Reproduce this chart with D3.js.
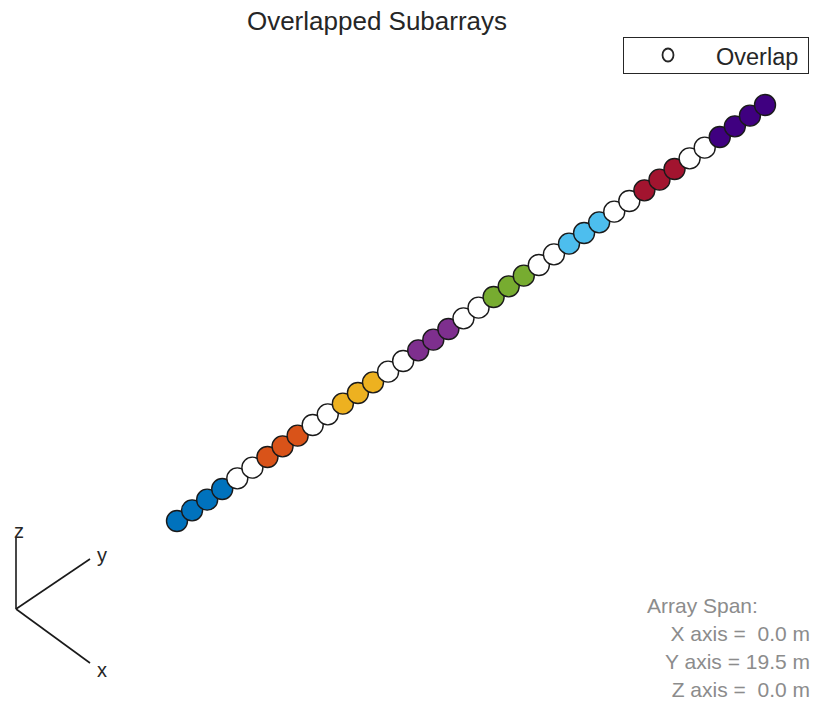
<!DOCTYPE html>
<html><head><meta charset="utf-8">
<script src="https://cdn.jsdelivr.net/npm/d3@7"></script>
<style>body{margin:0;background:#fff}svg{display:block}text{font-family:"Liberation Sans",Arial,sans-serif}</style>
</head><body>
<svg id="c" width="815" height="702"></svg>
<script>
// element y positions (m)
const elemY = [-9.75,-9.25,-8.75,-8.25,-7.75,-7.25,-6.75,-6.25,-5.75,-5.25,
  -4.75,-4.25,-3.75,-3.25,-2.75,-2.25,-1.75,-1.25,-0.75,-0.25,
  0.25,0.75,1.25,1.75,2.25,2.75,3.25,3.75,4.25,4.75,
  5.25,5.75,6.25,6.75,7.25,7.75,8.25,8.75,9.25,9.75];
// subarray membership of each element (0 = overlap)
const elemGroup = [1,1,1,1,0,0,2,2,2,0,0,3,3,3,0,0,4,4,4,0,0,5,5,5,0,0,6,6,6,0,0,7,7,7,0,0,8,8,8,8];
const groupColors = ["#ffffff","#0072BD","#D95319","#EDB120","#7E2F8E","#77AC30","#4DBEEE","#A2142F","#3F0080"];
const spanLabels = ["Array Span:","X axis =  0.0 m","Y axis = 19.5 m","Z axis =  0.0 m"];
const titleText = "Overlapped Subarrays";
const legendLabel = "Overlap";

const svg = d3.select("#c");
const sx = d3.scaleLinear().domain([-9.75,9.75]).range([177,765]);
const sy = d3.scaleLinear().domain([-9.75,9.75]).range([521,105]);

svg.append("text").attr("x",377).attr("y",30).attr("text-anchor","middle")
  .attr("font-size",26).attr("fill","#262626").text(titleText);

svg.selectAll("circle.el").data(elemY.map((y,i)=>({y,g:elemGroup[i]}))).enter()
  .append("circle").attr("class","el")
  .attr("cx",d=>sx(d.y)).attr("cy",d=>sy(d.y)).attr("r",10.5)
  .attr("fill",d=>groupColors[d.g]).attr("stroke","#1a1a1a").attr("stroke-width",1.4);

// legend
const lg = svg.append("g");
lg.append("rect").attr("x",623.5).attr("y",37.5).attr("width",185).attr("height",36)
  .attr("fill","#fff").attr("stroke","#262626").attr("stroke-width",1);
lg.append("ellipse").attr("cx",668).attr("cy",55).attr("rx",5.5).attr("ry",6.5).attr("fill","#fff")
  .attr("stroke","#262626").attr("stroke-width",1.8);
lg.append("text").attr("x",716).attr("y",65).attr("font-size",23.5).attr("fill","#262626").text(legendLabel);

// axes triad
const tri = svg.append("g").attr("stroke","#1a1a1a").attr("stroke-width",1.6);
tri.append("line").attr("x1",16).attr("y1",609).attr("x2",16).attr("y2",538);
tri.append("line").attr("x1",16).attr("y1",609).attr("x2",90).attr("y2",559);
tri.append("line").attr("x1",16).attr("y1",609).attr("x2",90).attr("y2",663);
svg.append("text").attr("x",14).attr("y",538).attr("font-size",20).attr("fill","#262626").text("z");
svg.append("text").attr("x",97).attr("y",562).attr("font-size",20).attr("fill","#262626").text("y");
svg.append("text").attr("x",97).attr("y",677).attr("font-size",20).attr("fill","#262626").text("x");

// array span
svg.append("text").attr("x",647).attr("y",613).attr("font-size",21).attr("fill","#8c8c8c").text(spanLabels[0]);
spanLabels.slice(1).forEach((t,i)=>{
  svg.append("text").attr("x",810).attr("y",641+i*28).attr("text-anchor","end")
    .attr("font-size",21).attr("fill","#8c8c8c").style("white-space","pre").text(t);
});
</script>
</body></html>
